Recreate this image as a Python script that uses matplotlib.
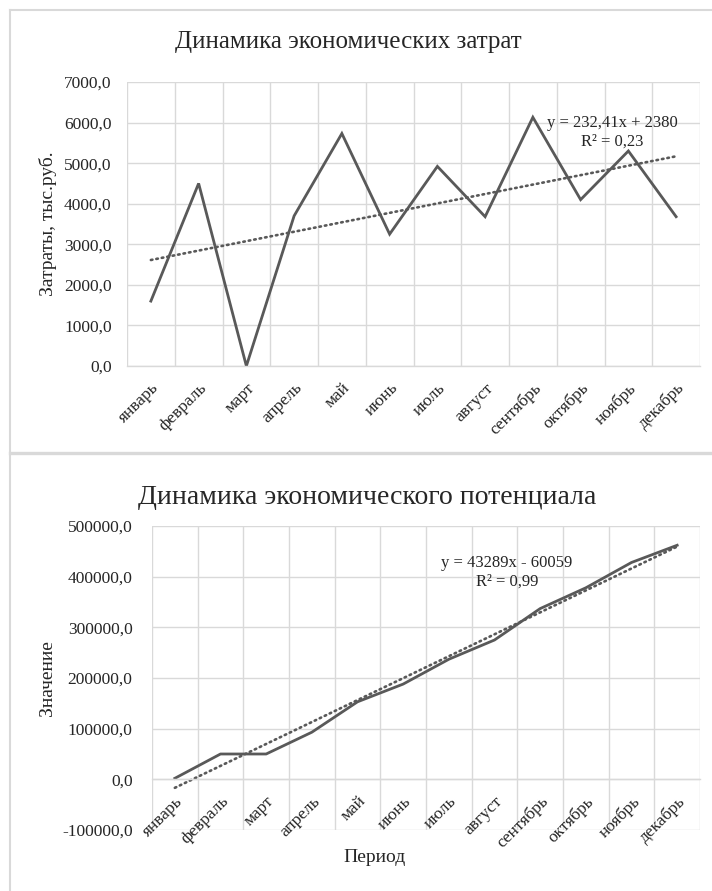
import matplotlib
matplotlib.use('Agg')
import matplotlib.pyplot as plt
from matplotlib.ticker import FuncFormatter, MultipleLocator, FixedLocator
from matplotlib.lines import Line2D
import numpy as np

plt.rcParams['font.family'] = ['Liberation Serif', 'DejaVu Serif']

# ---- data ----
months = ['январь', 'февраль', 'март', 'апрель', 'май', 'июнь',
          'июль', 'август', 'сентябрь', 'октябрь', 'ноябрь', 'декабрь']

costs = [1600, 4500, 0, 3700, 5730, 3250, 4920, 3680, 6130, 4100, 5300, 3680]
costs_slope, costs_icpt, costs_r2 = 232.41, 2380, 0.23

potential = [2000, 50000, 50000, 93000, 153000, 188000,
             237000, 275000, 337000, 378000, 428000, 462000]
pot_slope, pot_icpt, pot_r2 = 43289, -60059, 0.99

LINE = '#595959'
GRID = '#d9d9d9'
TXT = '#262626'

W, H = 712, 891
fig = plt.figure(figsize=(W / 100, H / 100), dpi=100)
fig.patch.set_facecolor('white')


def px_axes(x0, y0, x1, y1):
    # axes box given in pixel coords (top-left origin)
    return fig.add_axes([x0 / W, 1 - y1 / H, (x1 - x0) / W, (y1 - y0) / H])


def comma_fmt(v, pos):
    return '{:.1f}'.format(v).replace('.', ',')


def style_axes(ax, ymin, ymax, step, ypad, xaxis_at=None):
    if xaxis_at is not None:
        # category axis crosses the value axis at this level
        ax.spines['bottom'].set_position(('data', xaxis_at))
    x = np.arange(len(months))
    ax.set_xlim(-0.5, len(months) - 0.5)
    ax.set_ylim(ymin, ymax)
    ax.yaxis.set_major_locator(MultipleLocator(step))
    ax.yaxis.set_major_formatter(FuncFormatter(comma_fmt))
    ax.xaxis.set_major_locator(FixedLocator(x))
    ax.set_xticklabels(months, rotation=45, ha='right', rotation_mode='anchor',
                       fontsize=12.5, color=TXT)
    ax.tick_params(axis='x', length=0, pad=10)
    ax.tick_params(axis='y', length=0, pad=ypad, labelsize=12.5, labelcolor=TXT)
    ax.grid(axis='y', color=GRID, lw=1.0)
    # vertical lines between categories, kept under the labels
    for b in np.arange(-0.5, len(months), 1):
        ax.axvline(b, color=GRID, lw=1.0, zorder=0.3)
    ax.set_axisbelow(True)
    for s in ['top', 'right', 'left']:
        ax.spines[s].set_visible(False)
    ax.spines['bottom'].set_color(GRID)
    ax.spines['bottom'].set_linewidth(1.0)


# ---- chart 1: costs ----
ax1 = px_axes(127, 82, 700, 366)
x = np.arange(1, len(months) + 1)
ax1.plot(x - 1, costs, color=LINE, lw=2.0, solid_joinstyle='miter')
ax1.plot(x - 1, costs_slope * x + costs_icpt, color=LINE, lw=1.9,
         linestyle=(0, (0.6, 1.5)), dash_capstyle='round')
style_axes(ax1, 0, 7000, 1000, ypad=11)
ax1.set_ylabel('Затраты, тыс.руб.', fontsize=14, color=TXT, labelpad=5)
fig.text(348 / W, 1 - 42 / H, 'Динамика экономических затрат',
         ha='center', va='center', fontsize=18, color=TXT)
fig.text(612 / W, 1 - 123 / H, 'y = 232,41x + 2380',
         ha='center', va='center', fontsize=12, color=TXT)
fig.text(612 / W, 1 - 142 / H, 'R² = 0,23',
         ha='center', va='center', fontsize=12, color=TXT)

# ---- chart 2: potential ----
ax2 = px_axes(152, 526, 700, 830)
ax2.plot(x - 1, potential, color=LINE, lw=2.0)
ax2.plot(x - 1, pot_slope * x + pot_icpt, color=LINE, lw=1.9,
         linestyle=(0, (0.6, 1.5)), dash_capstyle='round')
style_axes(ax2, -100000, 500000, 100000, ypad=14, xaxis_at=0)
ax2.set_ylabel('Значение', fontsize=14, color=TXT, labelpad=4)
fig.text(367 / W, 1 - 497 / H, 'Динамика экономического потенциала',
         ha='center', va='center', fontsize=20, color=TXT)
fig.text(507 / W, 1 - 563 / H, 'y = 43289x - 60059',
         ha='center', va='center', fontsize=12, color=TXT)
fig.text(507 / W, 1 - 582 / H, 'R² = 0,99',
         ha='center', va='center', fontsize=12, color=TXT)
fig.text(375 / W, 1 - 858 / H, 'Период',
         ha='center', va='center', fontsize=14, color=TXT)

# ---- chart frames ----
BORDER = '#d9d9d9'
fig.add_artist(Line2D([10 / W, 10 / W], [1 - 10 / H, 0], color=BORDER, lw=1.5,
                      transform=fig.transFigure))
fig.add_artist(Line2D([10 / W, 1], [1 - 10 / H, 1 - 10 / H], color=BORDER, lw=1.5,
                      transform=fig.transFigure))
fig.add_artist(Line2D([10 / W, 1], [1 - 453 / H, 1 - 453 / H], color=BORDER, lw=2.4,
                      transform=fig.transFigure))

fig.savefig('out.png', dpi=100)
